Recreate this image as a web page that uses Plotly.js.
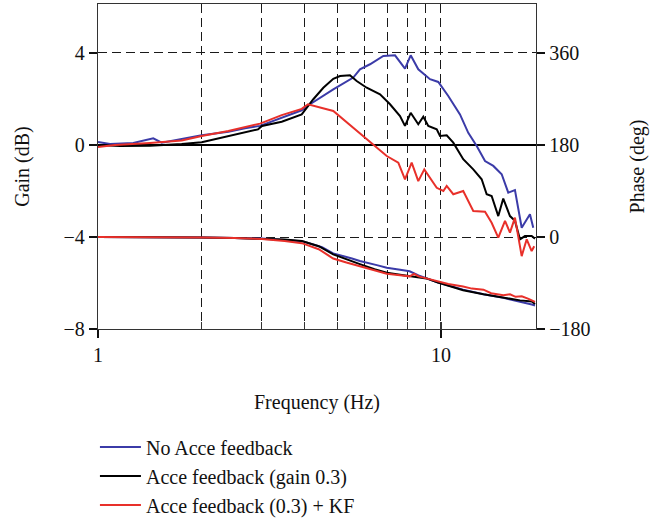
<!DOCTYPE html>
<html>
<head>
<meta charset="utf-8">
<script src="https://cdn.plot.ly/plotly-3.0.1.min.js"></script>
<style>html,body{margin:0;padding:0;background:#fff;}#chart{width:660px;height:523px;}</style>
</head>
<body>
<div id="chart"></div>
<script>
// Series names
const seriesNames = ["No Acce feedback", "Acce feedback (gain 0.3)", "Acce feedback (0.3) + KF"];
const seriesColors = ["#3b3ba8", "#000000", "#e8302a"];

// Gain (dB) curves
const blueGainF = [1.00,1.084,1.267,1.449,1.534,1.754,2.006,2.399,2.683,2.968,3.433,3.926,4.151,4.853,5.550,5.805,6.209,6.790,7.344,7.853,8.159,8.586,9.289,9.820,10.50,11.36,12.01,12.71,13.44,14.21,15.03,15.71,16.43,17.19,18.17,18.58];
const blueGain  = [0.13,0.04,0.09,0.29,0.10,0.25,0.42,0.58,0.73,0.83,1.19,1.51,1.77,2.42,2.93,3.29,3.51,3.87,3.90,3.32,3.90,3.29,2.86,2.74,2.13,1.33,0.53,-0.04,-0.70,-0.91,-1.27,-2.07,-1.96,-3.60,-3.01,-3.60];

const blackGainF = [1.00,1.159,1.418,1.754,2.006,2.399,2.928,3.007,3.433,3.926,4.244,4.539,4.853,5.076,5.428,5.678,6.073,6.641,7.102,7.595,7.853,8.159,8.586,8.880,9.183,9.717,9.933,10.39,10.86,11.61,12.42,13.14,13.59,14.05,14.69,15.19,15.89,16.43,16.99,17.57,18.38,18.79];
const blackGain  = [0.00,-0.04,-0.03,0.04,0.12,0.40,0.68,0.83,1.01,1.33,1.99,2.49,2.88,3.00,3.03,2.78,2.49,2.20,1.77,1.26,0.83,1.40,0.90,1.23,0.83,0.68,0.39,0.42,0.10,-0.62,-1.06,-1.49,-2.14,-2.22,-3.09,-2.33,-3.09,-3.30,-4.10,-3.96,-3.96,-4.07];

const redGainF = [1.00,1.121,1.418,1.754,2.006,2.399,2.968,3.433,3.926,4.095,4.853,5.678,6.348,6.947,7.508,7.853,8.213,8.586,8.940,9.717,10.16,10.39,10.86,11.61,12.42,13.44,14.05,14.69,15.37,15.89,16.43,17.19,17.78,18.38,18.70];
const redGain  = [-0.09,0.00,0.09,0.20,0.39,0.61,0.93,1.30,1.57,1.77,1.48,0.61,-0.01,-0.48,-0.77,-1.49,-0.77,-1.57,-1.06,-1.86,-2.00,-1.78,-2.14,-2.00,-2.87,-2.90,-3.38,-4.03,-3.30,-3.81,-3.16,-4.83,-4.10,-4.61,-4.40];

// Phase (deg) curves
const bluePhaseF = [1.0,1.5,2.0,2.5,3.0,3.5,3.97,4.5,4.85,5.5,5.8,6.5,6.95,7.6,8.1,8.6,9.07,9.8,11.6,13.3,15.2,17.0,18.4,18.8];
const bluePhase  = [0,0,-1,-2,-3,-6,-9,-20,-32,-42,-47,-55,-60,-64,-67,-75,-81,-89,-103,-112,-119,-126,-132,-134];

const blackPhaseF = [1.0,1.5,2.0,2.5,3.0,3.5,3.93,4.4,4.85,5.3,5.8,6.4,6.95,7.6,8.1,8.6,9.07,9.8,11.6,13.3,15.2,17.0,18.4,18.8];
const blackPhase  = [0,0,-1,-2,-3,-5,-8,-18,-34,-44,-53,-63,-70,-74,-76,-78,-81,-89,-104,-112,-119,-124,-126,-131];

const redPhaseF = [1.0,1.5,2.0,2.5,3.0,3.5,3.93,4.4,4.85,5.3,5.8,6.4,6.95,7.6,8.1,8.35,8.6,9.07,9.8,10.5,11.6,12.3,13.3,14.0,15.2,15.9,16.5,17.2,18.0,18.8];
const redPhase  = [0,0,-1,-2,-4,-8,-12,-24,-42,-50,-57,-66,-72,-75,-77,-72,-77,-81,-87,-92,-97,-101,-103,-110,-114,-112,-117,-116,-121,-127];

// Axis ticks
const gainTicks = [-8, -4, 0, 4];
const phaseTicks = [-180, 0, 180, 360];
const gridFreqs = [2, 3, 4, 5, 6, 7, 8, 9, 10];
const majorFreqs = [1, 10];
const majorFreqLabels = ["1", "10"];

const FONT = "Liberation Serif, Times New Roman, serif";
const gainRange = [-8, 6.13];
const phaseRange = [-180, 455.9];
const logRange = [0, 1.277];

const gainF = [blueGainF, blackGainF, redGainF];
const gainV = [blueGain, blackGain, redGain];
const phaseF = [bluePhaseF, blackPhaseF, redPhaseF];
const phaseV = [bluePhase, blackPhase, redPhase];

const traces = [];
for (let i = 0; i < 3; i++) {
  traces.push({
    x: gainF[i], y: gainV[i], xaxis: 'x', yaxis: 'y', mode: 'lines',
    name: seriesNames[i], legendgroup: 'g' + i, showlegend: true,
    line: {color: seriesColors[i], width: 2}
  });
}
for (let i = 0; i < 3; i++) {
  traces.push({
    x: phaseF[i], y: phaseV[i], xaxis: 'x2', yaxis: 'y2', mode: 'lines',
    name: seriesNames[i], legendgroup: 'g' + i, showlegend: false,
    line: {color: seriesColors[i], width: 2}
  });
}

const layout = {
  width: 660, height: 523,
  margin: {l: 98, r: 124, t: 4, b: 194, autoexpand: false},
  paper_bgcolor: '#fff', plot_bgcolor: '#fff',
  font: {family: FONT, size: 20, color: '#111'},
  showlegend: true,
  legend: {
    x: -0.007, y: -0.303, xanchor: 'left', yanchor: 'top',
    traceorder: 'grouped', tracegroupgap: 0,
    font: {family: FONT, size: 20, color: '#111'},
    itemwidth: 41, bgcolor: 'rgba(0,0,0,0)'
  },
  xaxis: {
    type: 'log', range: logRange,
    tickmode: 'array', tickvals: gridFreqs, showticklabels: false,
    ticks: 'inside', ticklen: 7, tickcolor: '#333', tickwidth: 1.2,
    showgrid: true, gridcolor: '#1a1a1a', gridwidth: 1, griddash: '9px,5px',
    showline: true, mirror: true, linecolor: '#333', linewidth: 1.3,
    zeroline: false
  },
  xaxis2: {
    type: 'log', range: logRange, overlaying: 'x', anchor: 'y', side: 'bottom',
    tickmode: 'array', tickvals: majorFreqs, ticktext: majorFreqLabels,
    ticks: 'outside', ticklen: 8, tickcolor: '#111', tickwidth: 1.5,
    ticklabelstandoff: 0,
    showgrid: false, showline: false, zeroline: false,
    tickfont: {family: FONT, size: 20, color: '#111'},
    title: {text: 'Frequency (Hz)', font: {family: FONT, size: 20, color: '#111'}, standoff: 29}
  },
  yaxis: {
    range: gainRange, tickmode: 'array', tickvals: gainTicks,
    ticks: 'outside', ticklen: 8, tickcolor: '#111', tickwidth: 1.5,
    showgrid: true, gridcolor: '#1a1a1a', gridwidth: 1, griddash: '9px,5px',
    zeroline: true, zerolinecolor: '#000', zerolinewidth: 2,
    showline: true, linecolor: '#333', linewidth: 1.3,
    tickfont: {family: FONT, size: 20, color: '#111'},
    title: {text: 'Gain (dB)', font: {family: FONT, size: 20, color: '#111'}, standoff: 28}
  },
  yaxis2: {
    range: phaseRange, overlaying: 'y', side: 'right', anchor: 'x',
    tickmode: 'array', tickvals: phaseTicks,
    ticks: 'outside', ticklen: 8, tickcolor: '#111', tickwidth: 1.5,
    showgrid: false, zeroline: false,
    showline: true, linecolor: '#333', linewidth: 1.3,
    tickfont: {family: FONT, size: 20, color: '#111'},
    title: {text: 'Phase (deg)', font: {family: FONT, size: 20, color: '#111'}, standoff: 40}
  }
};

Plotly.newPlot('chart', traces, layout, {staticPlot: true, displayModeBar: false});
</script>
</body>
</html>
